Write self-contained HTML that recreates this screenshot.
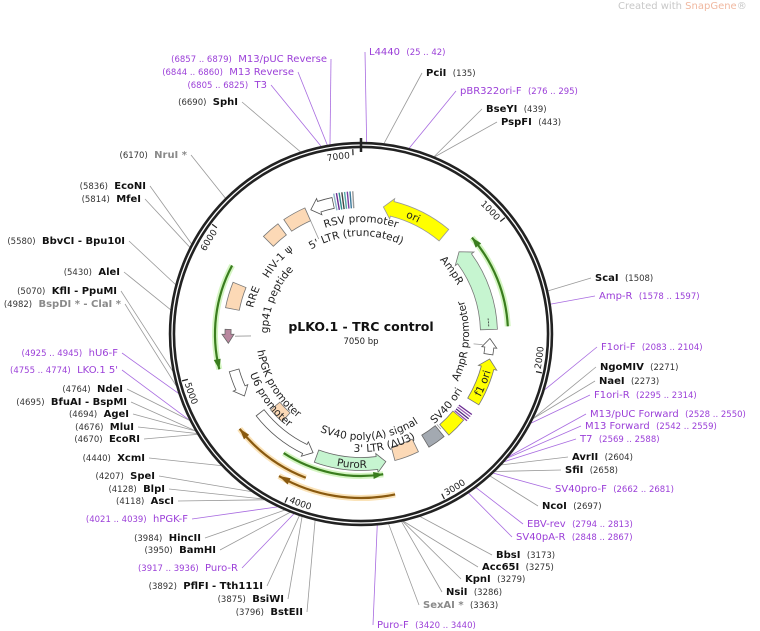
<!DOCTYPE html>
<html><head><meta charset="utf-8">
<style>
html,body{margin:0;padding:0;background:#fff;}
svg{display:block;font-family:"DejaVu Sans","Liberation Sans",sans-serif;}
</style></head>
<body>
<svg id="s" width="760" height="631" viewBox="0 0 760 631" xmlns="http://www.w3.org/2000/svg">
<defs id="d"></defs>
<g id="g"></g>
<text x="618" y="9" font-size="10" fill="#c8c8c8">Created with <tspan fill="#f0b8a0">SnapGene</tspan>®</text>
<text x="361" y="331" font-size="12.5" font-weight="bold" text-anchor="middle" fill="#111">pLKO.1 - TRC control</text>
<text x="361" y="344" font-size="8.5" text-anchor="middle" fill="#222">7050 bp</text>
</svg>
<script>
var NS="http://www.w3.org/2000/svg",cx=361,cy=334,R=189,TOT=7050;
var g=document.getElementById('g'),defs=document.getElementById('d');
function el(t,a,p,txt){var e=document.createElementNS(NS,t);for(var k in a)e.setAttribute(k,a[k]);if(txt!==undefined)e.textContent=txt;(p||g).appendChild(e);return e;}
function pt(a,r){var q=a*Math.PI/180;return [cx+r*Math.sin(q),cy-r*Math.cos(q)];}
function P(p){return p[0].toFixed(2)+' '+p[1].toFixed(2);}
function arc(a1,a2,r,sw){var s=pt(a1,r),e=pt(a2,r);var la=Math.abs(a2-a1)>180?1:0;return 'M'+P(s)+' A'+r+' '+r+' 0 '+la+' '+sw+' '+P(e);}
function ang(p){return p/TOT*360;}
var C={b:'#111',p:'#9b3fd8',g:'#8a8a8a'};
var L=[
['L',327,62,'(6857 .. 6879)','M13/pUC Reverse','p',6868],
['L',294,75,'(6844 .. 6860)','M13 Reverse','p',6852],
['L',267,88,'(6805 .. 6825)','T3','p',6815],
['L',238,105,'(6690)','SphI','b',6690],
['L',187,158,'(6170)','NruI *','g',6170],
['L',146,189,'(5836)','EcoNI','b',5836],
['L',141,202,'(5814)','MfeI','b',5814],
['L',125,244,'(5580)','BbvCI  - Bpu10I','b',5580],
['L',120,275,'(5430)','AleI','b',5430],
['L',117,294,'(5070)','KflI  - PpuMI','b',5070],
['L',121,307,'(4982)','BspDI * - ClaI *','g',4982],
['L',118,356,'(4925 .. 4945)','hU6-F','p',4935],
['L',118,373,'(4755 .. 4774)','LKO.1 5\'','p',4765],
['L',123,392,'(4764)','NdeI','b',4764],
['L',127,405,'(4695)','BfuAI  - BspMI','b',4695],
['L',129,417,'(4694)','AgeI','b',4694],
['L',134,430,'(4676)','MluI','b',4676],
['L',140,442,'(4670)','EcoRI','b',4670],
['L',145,461,'(4440)','XcmI','b',4440],
['L',155,479,'(4207)','SpeI','b',4207],
['L',165,492,'(4128)','BlpI','b',4128],
['L',174,504,'(4118)','AscI','b',4118],
['L',188,522,'(4021 .. 4039)','hPGK-F','p',4030],
['L',201,541,'(3984)','HincII','b',3984],
['L',216,553,'(3950)','BamHI','b',3950],
['L',238,571,'(3917 .. 3936)','Puro-R','p',3926],
['L',263,589,'(3892)','PflFI  - Tth111I','b',3892],
['L',284,602,'(3875)','BsiWI','b',3875],
['L',303,615,'(3796)','BstEII','b',3796],
['R',377,628,'(3420 .. 3440)','Puro-F','p',3430],
['R',423,608,'(3363)','SexAI *','g',3363],
['R',446,595,'(3286)','NsiI','b',3286],
['R',465,582,'(3279)','KpnI','b',3279],
['R',482,570,'(3275)','Acc65I','b',3275],
['R',496,558,'(3173)','BbsI','b',3173],
['R',516,540,'(2848 .. 2867)','SV40pA-R','p',2858],
['R',527,527,'(2794 .. 2813)','EBV-rev','p',2804],
['R',542,509,'(2697)','NcoI','b',2697],
['R',555,492,'(2662 .. 2681)','SV40pro-F','p',2672],
['R',565,473,'(2658)','SfiI','b',2658],
['R',572,460,'(2604)','AvrII','b',2604],
['R',580,442,'(2569 .. 2588)','T7','p',2578],
['R',585,429,'(2542 .. 2559)','M13 Forward','p',2550],
['R',590,417,'(2528 .. 2550)','M13/pUC Forward','p',2539],
['R',594,398,'(2295 .. 2314)','F1ori-R','p',2304],
['R',599,384,'(2273)','NaeI','b',2273],
['R',600,370,'(2271)','NgoMIV','b',2271],
['R',601,350,'(2083 .. 2104)','F1ori-F','p',2093],
['R',599,299,'(1578 .. 1597)','Amp-R','p',1587],
['R',595,281,'(1508)','ScaI','b',1508],
['R',501,125,'(443)','PspFI','b',443],
['R',486,112,'(439)','BseYI','b',439],
['R',460,94,'(276 .. 295)','pBR322ori-F','p',285],
['R',426,76,'(135)','PciI','b',135],
['R',369,55,'(25 .. 42)','L4440','p',33]
];
L.forEach(function(l){
 var side=l[0],x=l[1],y=l[2],col=C[l[5]],bold=l[5]!=='p';
 var t=el('text',{x:x,y:y,'text-anchor':side=='L'?'end':'start','font-size':'10',fill:col});
 var numFill=l[5]=='p'?col:'#333';
 var n=document.createElementNS(NS,'tspan');n.setAttribute('font-size','8.5');n.setAttribute('fill',numFill);n.textContent=l[3];
 var m=document.createElementNS(NS,'tspan');if(bold)m.setAttribute('font-weight','bold');m.textContent=l[4];
 var sp=document.createTextNode('\u00a0\u00a0');
 if(side=='L'){t.appendChild(n);t.appendChild(sp);t.appendChild(m);}else{t.appendChild(m);t.appendChild(sp);t.appendChild(n);}
 var sx=side=='L'?x+4:x-4, sy=y-3;
 var e=pt(ang(l[6]),R+3);
 el('line',{x1:sx,y1:sy,x2:e[0],y2:e[1],stroke:l[5]=='p'?'#a86be0':'#999','stroke-width':'0.8'});
});
el('circle',{cx:cx,cy:cy,r:R,fill:'none',stroke:'#222','stroke-width':'6.5'});
el('circle',{cx:cx,cy:cy,r:R,fill:'none',stroke:'#fff','stroke-width':'1.3'});
var z1=pt(0,R-6),z2=pt(0,R+6);el('line',{x1:z1[0],y1:z1[1]+1,x2:z2[0],y2:z2[1]-1,stroke:'#222','stroke-width':'2.5'});
var pid=0;
function tpath(a1,a2,r,sw){var id='p'+(pid++);el('path',{id:id,d:arc(a1,a2,r,sw),fill:'none'},defs);return id;}
function ctext(str,a,r,flip,size,col,anchor){
 var span=40,id;
 if(!flip){id=tpath(a-span,a+span,r,1);}else{id=tpath(a+span,a-span,r,0);}
 var t=el('text',{'font-size':size,fill:col||'#222','text-anchor':anchor||'middle'});
 var tp=document.createElementNS(NS,'textPath');tp.setAttribute('href','#'+id);tp.setAttributeNS('http://www.w3.org/1999/xlink','xlink:href','#'+id);
 tp.setAttribute('startOffset','50%');tp.textContent=str;t.appendChild(tp);return t;
}
[1000,2000,3000,4000,5000,6000,7000].forEach(function(p){
 var a=ang(p),p1=pt(a,R-4),p2=pt(a,R-10);
 el('line',{x1:p1[0],y1:p1[1],x2:p2[0],y2:p2[1],stroke:'#222','stroke-width':'1.2'});
 var flip=(a>90&&a<270);
 if(!flip) ctext(String(p),a-1,R-13,false,9,'#222','end');
 else ctext(String(p),a-1,R-6,true,9,'#222','start');
});
function feat(a1,a2,r,w,fill,stroke,dir){
 var hl=9/r*180/Math.PI,ro=r+w/2,ri=r-w/2,d;
 if(dir==0){d=arc(a1,a2,ro,1)+' L'+P(pt(a2,ri))+' '+arc(a2,a1,ri,0).replace('M','L')+' Z';}
 else if(dir==1){var b=a2-hl;d=arc(a1,b,ro,1)+' L'+P(pt(b,ro+3))+' L'+P(pt(a2,r))+' L'+P(pt(b,ri-3))+' L'+P(pt(b,ri))+' '+arc(b,a1,ri,0).replace('M','L')+' Z';}
 else {var b=a1+hl;d='M'+P(pt(a1,r))+' L'+P(pt(b,ro+3))+' L'+P(pt(b,ro))+' '+arc(b,a2,ro,1).replace('M','L')+' L'+P(pt(a2,ri))+' '+arc(a2,b,ri,0).replace('M','L')+' L'+P(pt(b,ri-3))+' Z';}
 el('path',{d:d,fill:fill,stroke:stroke||'#777','stroke-width':'0.8'});
}
function thin(a1,a2,r,col,glow,dir){
 el('path',{d:arc(a1,a2,r,1),fill:'none',stroke:glow,'stroke-width':'6','stroke-opacity':'0.6'});
 el('path',{d:arc(a1,a2,r,1),fill:'none',stroke:col,'stroke-width':'2.2'});
 var a=dir==1?a2:a1,b=dir==1?a2-4:a1+4;
 el('path',{d:'M'+P(pt(a,r))+' L'+P(pt(b,r+3.5))+' L'+P(pt(b,r-3.5))+' Z',fill:col});
}
feat(10,40,129,15,'#ffff00','#999',-1);
thin(49,87,147,'#3a7d1e','#b8ef9a',-1);
feat(50,88,128,17,'#c6f5d0','#777',-1);
el('path',{d:arc(83,87,128,1),stroke:'#333','stroke-width':'0.8','stroke-dasharray':'2,1',fill:'none'});
feat(92,99,129,9,'#fff','#555',-1);
feat(101,121,131,13,'#ffff00','#777',-1);
for(var i=0;i<4;i++){var q1=pt(126+i*1.1,121),q2=pt(126+i*1.1,137);el('line',{x1:q1[0],y1:q1[1],x2:q2[0],y2:q2[1],stroke:['#6a2c91','#9b59b6','#4b2a7a','#8e44ad'][i],'stroke-width':'1.3'});}
feat(130,139,127,14,'#ffff00','#777',0);
feat(141,149,125,14,'#a3a9b1','#666',0);
feat(154,165,124,14,'#fcd9b6','#777',0);
feat(169,200,130,13,'#c6f5d0','#666',-1);
thin(171,213,142,'#3a7d1e','#b8ef9a',-1);
thin(168,210,164,'#8a5a10','#f7d08a',1);
thin(201,232,154,'#8a5a10','#f7d08a',1);
feat(202,232,128,10,'#fff','#555',-1);
feat(222,230,112,12,'#fcd9b6','#777',0);
feat(242,254,132,10,'#fff','#555',-1);
thin(256,298,146,'#3a7d1e','#b8ef9a',-1);
feat(266,272,133,6,'#b9879f','#666',-1);
feat(281,292,131,14,'#fcd9b6','#777',0);
feat(315,323,131,14,'#fcd9b6','#777',0);
feat(326,336,131,14,'#fcd9b6','#777',0);
feat(338,348,134,11,'#fff','#555',-1);
var sc=['#8fb5c8','#6a2c91','#2e8b8b','#444','#5aa','#7b3fa0','#3b7a9a','#999'];
for(var i=0;i<8;i++){var q1=pt(349+i*1.1,126),q2=pt(349+i*1.1,143);el('line',{x1:q1[0],y1:q1[1],x2:q2[0],y2:q2[1],stroke:sc[i],'stroke-width':'1.4'});}
function ll(a,r1,r2){var p1=pt(a,r1),p2=pt(a,r2);el('line',{x1:p1[0],y1:p1[1],x2:p2[0],y2:p2[1],stroke:'#999','stroke-width':'0.8'});}
ll(95,113,122);ll(140,118,124);ll(269,110,126);ll(336,104,124);
ctext('ori',24,125,false,10.5,'#222');
ctext('RSV promoter',0,112,false,10.5,'#222');
ctext('5\' LTR (truncated)',357,98,false,10.5,'#222');
ctext('HIV-1 \u03c8',311,108,false,10.5,'#222');
ctext('gp41 peptide',292,93,false,10.5,'#222');
ctext('RRE',289,111,false,10.5,'#222');
ctext('AmpR',55,108,false,10.5,'#222');
ctext('AmpR promoter',94,108,true,10.5,'#222');
ctext('f1 ori',112,135,true,10.5,'#222');
ctext('SV40 ori',130,116,true,10.5,'#222');
ctext('SV40 poly(A) signal',175,106,true,10.5,'#222');
ctext('3\' LTR (\u0394U3)',168,118,true,10.5,'#222');
ctext('PuroR',184,134,true,10.5,'#222');
ctext('hPGK promoter',239,105,true,10.5,'#222');
ctext('U6 promoter',234,118,true,10.5,'#222');
</script>
</body></html>
